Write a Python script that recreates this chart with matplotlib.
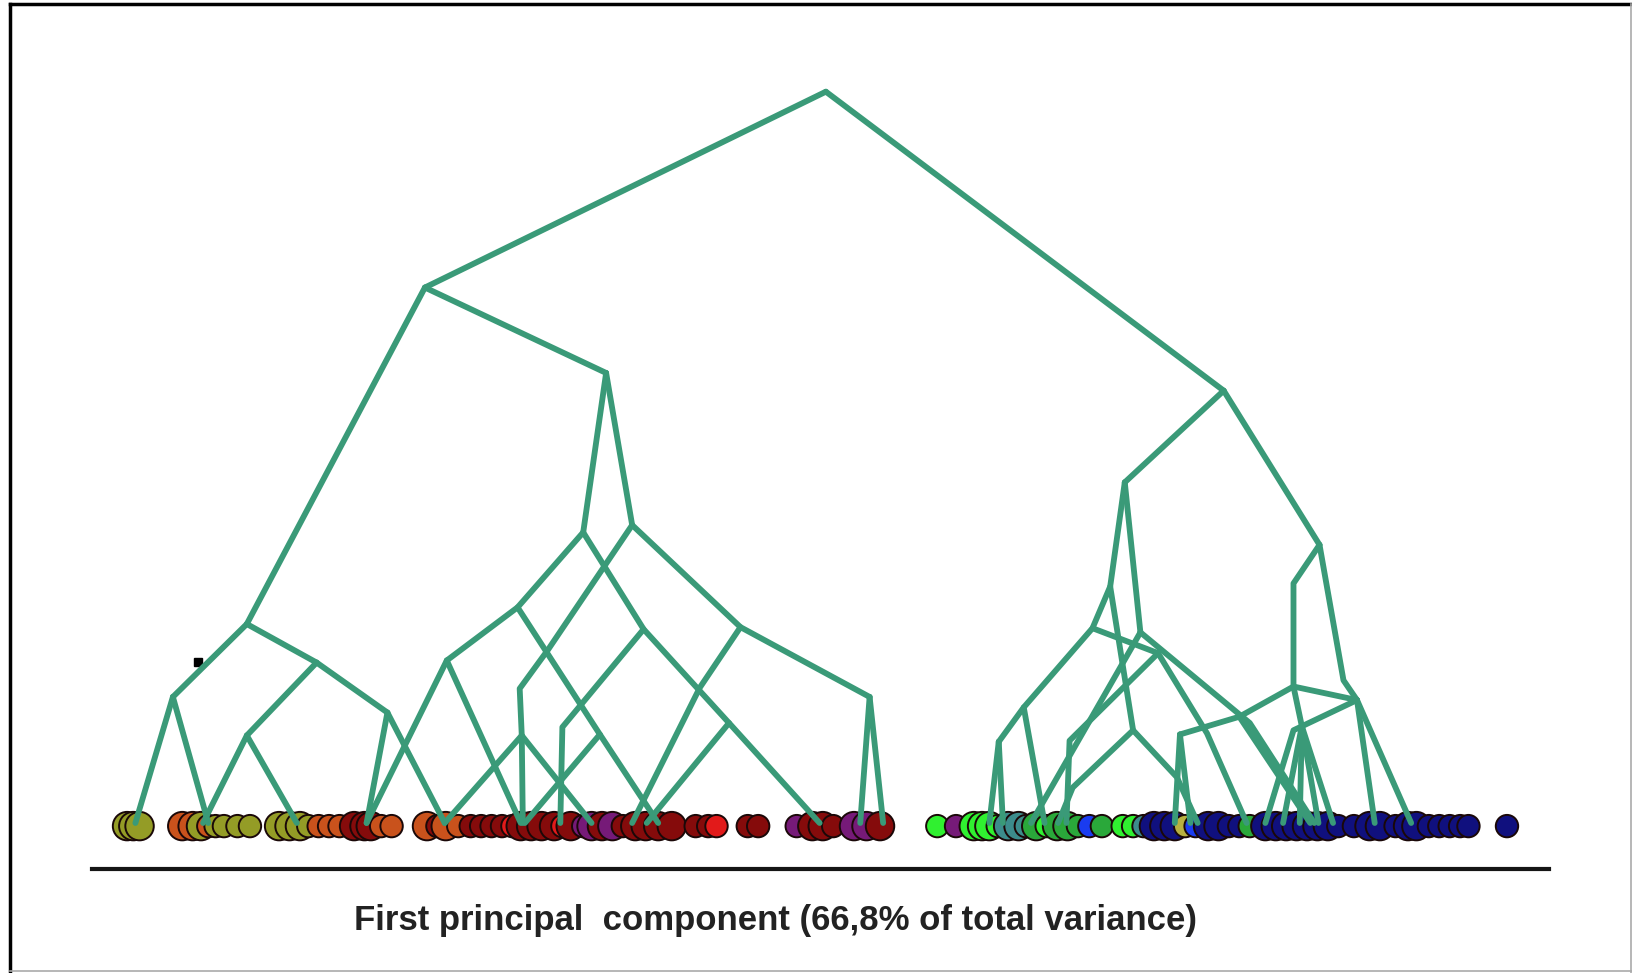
import matplotlib
matplotlib.use("Agg")
import matplotlib.pyplot as plt

# Positions along PC1 (x) and merge height above the score row (h), same units on both axes
nodes = {
    'root': (793, 702), 'L': (408, 514), 'RC': (1175, 415),
    # left group
    'A': (237, 191), 'A1': (166, 121), 'A2': (304, 154),
    'A21': (237, 84), 'A22': (372, 106),
    # middle group
    'M': (582, 432), 'P1': (560, 279), 'P2': (607, 286),
    'Q1': (497, 207), 'Q2': (429, 156), 'Q1b': (576, 85),
    'R1': (618, 186), 'R1a': (540, 92), 'R1b': (700, 96),
    'S1': (711, 188), 'S1a': (672, 130), 'T': (835, 121),
    'P2a': (526, 166), 'P2b': (499, 129), 'N': (501, 84),
    # right group
    'B1': (1080, 327), 'B1a': (1066, 227), 'V1': (1049, 187),
    'V1a': (983, 111), 'V1b': (959, 78), 'V2': (1095, 183),
    'V3': (1112, 163), 'V3a': (1159, 86), 'V2a': (1200, 96),
    'K1': (1027, 79), 'Y1': (1088, 89), 'Ya': (1030, 34), 'Yb': (1130, 44),
    'W': (1267, 267), 'Wa': (1242, 230), 'X': (1242, 131), 'X2': (1250, 93),
    'Z': (1290, 137), 'Z2': (1303, 118), 'Z3': (1242, 89),
    'H1': (1190, 102), 'H2': (1133, 85),
}

# terminal points on the score row
leaf_x = [130, 195, 200, 285, 352, 427, 500, 502, 504, 538, 568, 607, 621, 632,
          787, 826, 848, 950, 963, 990, 1003, 1016, 1024, 1128, 1143, 1150, 1197,
          1215, 1232, 1248, 1258, 1262, 1266, 1280, 1320, 1355]

branches = [
    ['root', 'L'], ['root', 'RC'], ['L', 'A'], ['L', 'M'],
    ['A', 'A1'], ['A', 'A2'], ['A1', 'x130'], ['A1', 'x200'],
    ['A2', 'A21'], ['A2', 'A22'], ['A21', 'x195'], ['A21', 'x285'],
    ['A22', 'x352'], ['A22', 'x427'],
    ['M', 'P1'], ['M', 'P2'], ['P1', 'Q1', 'Q2'], ['Q2', 'x352'], ['Q2', 'x500'],
    ['Q1', 'Q1b', 'x632'], ['Q1b', 'x504'],
    ['P1', 'R1', 'R1b', 'x787'], ['R1b', 'x621'], ['R1', 'R1a', 'x538'],
    ['P2', 'P2a', 'P2b', 'N', 'x502'], ['N', 'x427'], ['N', 'x568'],
    ['P2', 'S1', 'S1a', 'x607'], ['S1', 'T'], ['T', 'x826'], ['T', 'x848'],
    ['RC', 'B1'], ['RC', 'W'],
    ['B1', 'B1a', 'V1', 'V1a', 'V1b'], ['V1b', 'x950'], ['V1b', 'x963'], ['V1a', 'x1003'],
    ['B1', 'V2'], ['V1', 'V3', 'V3a', 'x1197'], ['V3', 'K1', 'x1024'],
    ['V2', 'x990'], ['V2', 'V2a', 'x1262'],
    ['B1a', 'Y1', 'Ya', 'x1016'], ['Y1', 'Yb', 'x1150'],
    ['W', 'Wa', 'X', 'X2'], ['X2', 'x1232'], ['X2', 'x1248'], ['X2', 'x1266'], ['X2', 'x1280'],
    ['X', 'H1', 'H2'], ['H2', 'x1128'], ['H2', 'x1143'], ['H1', 'x1258'],
    ['X', 'Z2'], ['W', 'Z', 'Z2'], ['Z2', 'x1320'], ['Z2', 'x1355'], ['Z2', 'Z3', 'x1215'],
]

# individual scores on PC1, grouped by colour class
olive = [122, 128, 134, 193, 207, 215, 228, 240, 268, 278, 288, 296]
orange = [175, 185, 200, 306, 316, 326, 366, 376, 410, 428, 440]
darkred = [340, 350, 356, 420, 452, 462, 472, 482, 500, 510, 520, 532, 548, 578, 598,
           610, 620, 632, 645, 668, 680, 718, 728, 780, 790, 800, 845]
red = [492, 540, 688]
purple = [560, 568, 588, 765, 820, 832, 918]
green = [900, 935, 943, 950, 958, 1005, 1078, 1088]
teal = [968, 978, 985, 1098]
dkgreen = [995, 1015, 1025, 1035, 1058, 1200]
blue = [1046, 1148]
khaki = [1138]
navy = [1108, 1118, 1128, 1160, 1170, 1180, 1190, 1215, 1225, 1235, 1245, 1255, 1265,
        1275, 1285, 1300, 1315, 1325, 1340, 1352, 1360, 1372, 1382, 1392, 1402, 1410, 1447]
big = {122, 128, 134, 175, 185, 193, 268, 278, 288, 340, 350, 356, 410, 428, 500, 510,
       520, 532, 548, 568, 578, 588, 610, 620, 632, 645, 780, 790, 820, 832, 845,
       935, 943, 950, 968, 978, 995, 1015, 1025, 1108, 1118, 1128, 1160, 1170,
       1215, 1225, 1235, 1245, 1255, 1265, 1275, 1315, 1325, 1352, 1360}

palette = {
    'olive': '#949C26', 'orange': '#C9521C', 'darkred': '#850B0B', 'red': '#E21A1A',
    'purple': '#761A78', 'green': '#30F030', 'teal': '#3C8C8C', 'dkgreen': '#2AA83A',
    'blue': '#1A3CF0', 'khaki': '#B8B040', 'navy': '#10107E',
}
groups = {'olive': olive, 'orange': orange, 'darkred': darkred, 'red': red,
          'purple': purple, 'green': green, 'teal': teal, 'dkgreen': dkgreen,
          'blue': blue, 'khaki': khaki, 'navy': navy}

LINE_GREEN = '#3A9A78'

fig = plt.figure(figsize=(16.33, 9.73), dpi=100)
ax = fig.add_axes([0, 0, 1, 1])
ax.set_xlim(0, 1568)
ax.set_ylim(-144, 790)
ax.axis('off')

for v in leaf_x:
    nodes['x%d' % v] = (v, 0)

# score row, drawn left to right so overlaps stack like the original
pts = []
for name, xs in groups.items():
    for v in xs:
        pts.append((v, palette[name], 420 if v in big else 260))
pts.sort(key=lambda p: p[0])
ax.scatter([p[0] for p in pts], [-3] * len(pts), s=[p[2] for p in pts],
           c=[p[1] for p in pts], edgecolors='#1a0808', linewidths=1.4, zorder=2)

# tree branches sit on top of the points
for path in branches:
    xs = [nodes[n][0] for n in path]
    hs = [nodes[n][1] for n in path]
    ax.plot(xs, hs, color=LINE_GREEN, lw=4.2, solid_capstyle='round',
            solid_joinstyle='round', zorder=3)

ax.plot(190, 155, marker='s', ms=6, color='black', zorder=1)

# baseline and axis title
ax.plot([88, 1487], [-44, -44], color='#151515', lw=3, zorder=1)
ax.text(745, -94, 'First principal  component (66,8% of total variance)',
        ha='center', va='center', fontsize=25, fontweight='bold',
        family='Liberation Sans', color='#222222')

# frame
ax.plot([10, 10], [-144, 786], color='black', lw=2.5)
ax.plot([10, 1568], [786, 786], color='black', lw=2.5)
ax.plot([1566, 1566], [-144, 786], color='#aaaaaa', lw=1.2)
ax.plot([10, 1568], [-142, -142], color='#aaaaaa', lw=1.2)

fig.savefig('out.png', dpi=100)
